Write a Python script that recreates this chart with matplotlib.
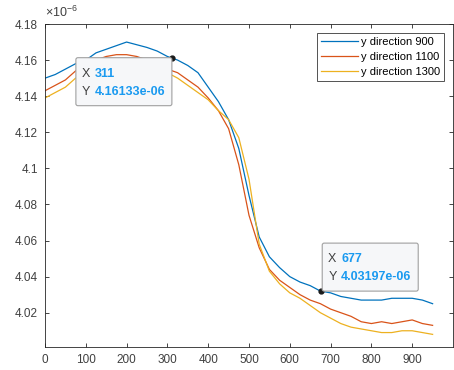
import matplotlib
matplotlib.use('Agg')
import matplotlib.pyplot as plt
from matplotlib.patches import FancyBboxPatch
from matplotlib.ticker import FuncFormatter
import numpy as np

plt.rcParams['font.family'] = ['Liberation Sans', 'DejaVu Sans']
plt.rcParams['mathtext.fontset'] = 'custom'
plt.rcParams['mathtext.rm'] = 'Liberation Sans'

# positions along the line
xpos = [0, 25, 50, 75, 100, 125, 150, 175, 200, 225, 250, 275, 300, 325, 350,
        375, 400, 425, 450, 475, 500, 525, 550, 575, 600, 625, 650, 675, 700,
        725, 750, 775, 800, 825, 850, 875, 900, 925, 950]

# values in units of 1e-6
y900 = [4.150, 4.152, 4.155, 4.158, 4.160, 4.164, 4.166, 4.168, 4.170, 4.1685,
        4.167, 4.165, 4.162, 4.160, 4.157, 4.153, 4.145, 4.137, 4.127, 4.111,
        4.085, 4.062, 4.051, 4.045, 4.040, 4.037, 4.035, 4.032, 4.031, 4.029,
        4.028, 4.027, 4.027, 4.027, 4.028, 4.028, 4.028, 4.027, 4.025]
y1100 = [4.143, 4.146, 4.149, 4.154, 4.156, 4.160, 4.162, 4.163, 4.163, 4.162,
         4.160, 4.157, 4.155, 4.153, 4.149, 4.145, 4.139, 4.132, 4.122, 4.102,
         4.074, 4.056, 4.044, 4.038, 4.034, 4.030, 4.027, 4.025, 4.022, 4.020,
         4.018, 4.015, 4.014, 4.015, 4.014, 4.015, 4.016, 4.014, 4.013]
y1300 = [4.139, 4.142, 4.145, 4.150, 4.152, 4.155, 4.157, 4.158, 4.159, 4.159,
         4.158, 4.156, 4.153, 4.150, 4.146, 4.142, 4.138, 4.132, 4.127, 4.117,
         4.094, 4.058, 4.043, 4.036, 4.031, 4.028, 4.024, 4.020, 4.017, 4.014,
         4.012, 4.011, 4.010, 4.009, 4.009, 4.010, 4.010, 4.009, 4.008]
labels = ['y direction 900', 'y direction 1100', 'y direction 1300']
colors = ['#0072BD', '#D95319', '#EDB120']

# data tips: (x, y)
tips = [(311, 4.16133e-06), (677, 4.03197e-06)]

fig = plt.figure(figsize=(4.54, 3.70), dpi=100)
ax = fig.add_axes([45/454, 23/370, 408/454, 323/370])

for ys, c, lab in zip([y900, y1100, y1300], colors, labels):
    ax.plot(xpos, np.array(ys)*1e-6, color=c, lw=0.9, label=lab)

ax.set_xlim(0, 1000)
ax.set_ylim(4.001e-6, 4.18e-6)
ax.set_xticks(np.arange(0, 1000, 100))
ax.set_yticks(np.arange(4.02, 4.181, 0.02)*1e-6)
ax.yaxis.set_major_formatter(FuncFormatter(lambda v, p: '%g' % round(v/1e-6, 4)))
ax.tick_params(direction='in', top=True, right=True, length=3, width=0.6,
               labelsize=8.5, colors='#262626', labelcolor='#404040', pad=5)
for s in ax.spines.values():
    s.set_color('#262626')
    s.set_linewidth(0.6)

ax.text(0, 1.012, r'$\times\mathregular{10^{-6}}$', transform=ax.transAxes,
        fontsize=9, color='#404040', ha='left', va='bottom')

leg = ax.legend(loc='upper right', bbox_to_anchor=(444/454, 337/370),
                bbox_transform=fig.transFigure, borderaxespad=0, fontsize=8,
                fancybox=False, edgecolor='#262626', handlelength=3.3,
                handletextpad=0.3, labelspacing=0.45, borderpad=0.35)
leg.get_frame().set_linewidth(0.7)

# data tip boxes
boxes = [(-96, -48), (1, 0)]
for (tx, ty), (dx, dy) in zip(tips, boxes):
    ax.plot(tx, ty, 'o', color='#1a1a1a', ms=3.5, zorder=6)
    px, py = ax.transData.transform((tx, ty))
    bx, by = px + dx, py + dy
    box = FancyBboxPatch((bx, by), 96, 48, boxstyle='round,pad=0,rounding_size=2',
                         transform=None, facecolor='#f6f7f9', edgecolor='#a0a0a0',
                         lw=0.8, zorder=5, clip_on=False)
    fig.add_artist(box)
    for row, (lt, val) in enumerate([('X', '%d' % tx), ('Y', '%g' % ty)]):
        yy = by + 32 - row*18
        fig.text(bx + 6, yy, lt, transform=None, fontsize=9, color='#404040',
                 va='center', ha='left', zorder=7)
        fig.text(bx + 19, yy, val, transform=None,
                 fontsize=9, color='#1a9af0', fontweight='bold', va='center',
                 ha='left', zorder=7)

plt.savefig('out.png', dpi=100)
